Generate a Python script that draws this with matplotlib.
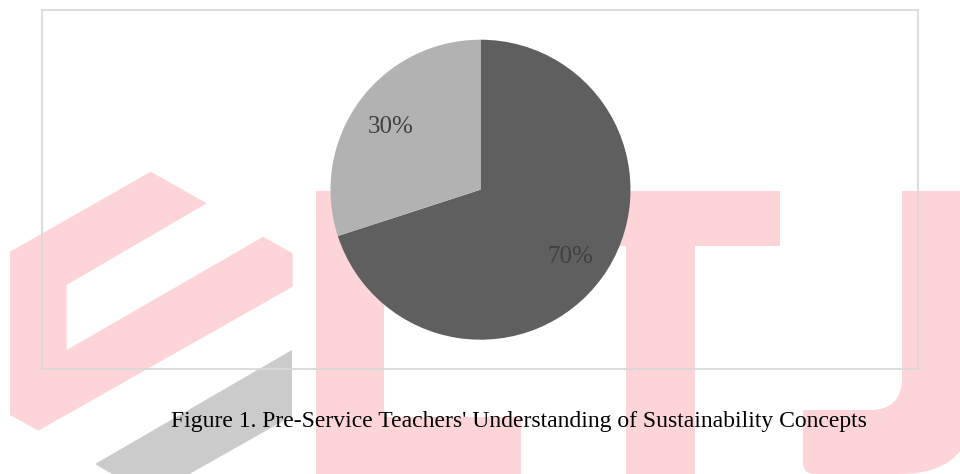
import matplotlib
matplotlib.use("Agg")
import matplotlib.pyplot as plt
from matplotlib.patches import Polygon, Rectangle, PathPatch
from matplotlib.path import Path

# data
categories = ["Understand", "Do not understand"]
shares = [70, 30]
slice_colors = ["#5f5f5f", "#b2b2b2"]
caption = "Figure 1. Pre-Service Teachers' Understanding of Sustainability Concepts"

W, H = 960, 474
plt.rcParams['font.family'] = ['Liberation Serif', 'DejaVu Serif']

fig = plt.figure(figsize=(W / 100, H / 100), dpi=100)


def px(x, y):
    # pixel coords (origin top-left) to figure fraction
    return (x / W, 1 - y / H)


def poly(points, color):
    p = Polygon([px(x, y) for x, y in points], closed=True, transform=fig.transFigure,
                facecolor=color, edgecolor="none", zorder=-5)
    fig.patches.append(p)


# background watermark
pink = "#fdd5d8"
poly([(150.7, 171.7), (206.7, 203.3), (66.7, 285), (66.7, 350), (263.3, 236.7),
      (292.7, 253.3), (292.7, 286.7), (38.3, 430.7), (10, 415), (10, 251.7)], pink)
poly([(292, 350), (292, 416), (189.5, 474), (112, 474), (95, 464)], "#cbcbcb")
poly([(315.7, 191), (384.3, 191), (384.3, 417.3), (521, 417.3), (521, 474), (315.7, 474)], pink)
poly([(541, 191), (780, 191), (780, 246), (695, 246), (695, 474), (626, 474), (626, 246), (541, 246)], pink)
j_pts = [(902, 191), (975, 191), (975, 400), (975, 474), (900, 474), (815, 474), (803, 474),
         (803, 462), (803, 410), (870, 410), (902, 410), (902, 378), (902, 191)]
j_codes = [Path.MOVETO, Path.LINETO, Path.LINETO, Path.CURVE3, Path.CURVE3, Path.LINETO,
           Path.CURVE3, Path.CURVE3, Path.LINETO, Path.LINETO, Path.CURVE3, Path.CURVE3,
           Path.CLOSEPOLY]
fig.patches.append(PathPatch(Path([px(x, y) for x, y in j_pts], j_codes),
                             transform=fig.transFigure, facecolor=pink,
                             edgecolor="none", zorder=-5))

# chart border
x0, y0 = px(42, 369)
x1, y1 = px(918, 10)
fig.patches.append(Rectangle((x0, y0), x1 - x0, y1 - y0, transform=fig.transFigure,
                             fill=False, edgecolor="#d9d9d9", linewidth=1.3, zorder=1))

# pie
cx, cy, r = 480.5, 189.7, 150
ax = fig.add_axes([(cx - r) / W, (H - cy - r) / H, 2 * r / W, 2 * r / H])
wedges, texts, autotexts = ax.pie(
    shares, colors=slice_colors, startangle=90, counterclock=False,
    autopct="%d%%", pctdistance=0.74, radius=1,
    wedgeprops=dict(linewidth=0),
    textprops=dict(color="#404040", fontsize=18))
for t in autotexts:
    t.set_va("center_baseline")
ax.set_xlim(-1, 1)
ax.set_ylim(-1, 1)
ax.axis("off")

fig.text(518.5 / W, 1 - 421 / H, caption, ha="center", va="center",
         fontsize=17, color="black")

fig.savefig("out.png", dpi=100)
